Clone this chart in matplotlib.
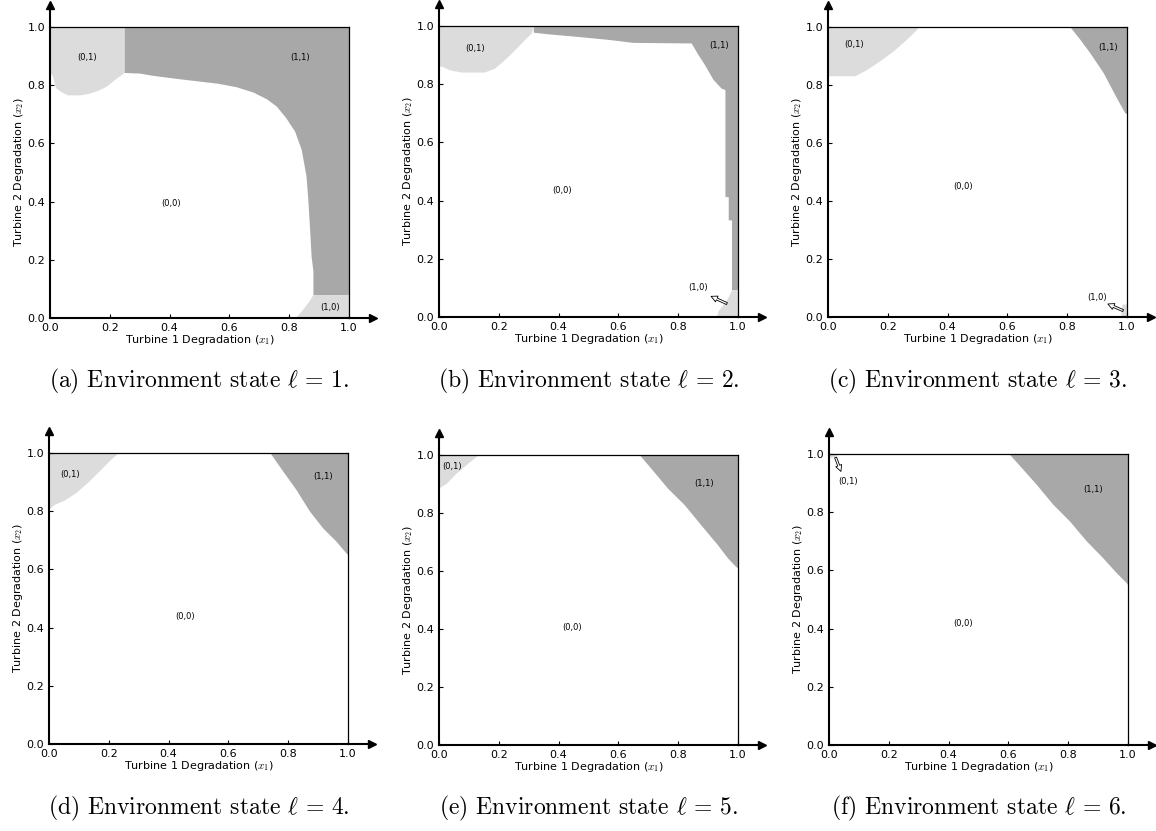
import matplotlib
matplotlib.use("Agg")
import matplotlib.pyplot as plt

plt.rcParams['mathtext.fontset'] = 'cm'

# colours of the policy regions
LIGHT = '#dcdcdc'
DARK = '#a8a8a8'

# ---- panel (a), l = 1 ----
a_01_x = [0.0, 0.01, 0.02, 0.04, 0.06, 0.10, 0.13, 0.16, 0.19, 0.22, 0.25]
a_01_y = [0.845, 0.83, 0.79, 0.775, 0.765, 0.765, 0.77, 0.78, 0.795, 0.82, 0.842]
a_11_x = [0.25, 0.30, 0.346, 0.43, 0.496, 0.563, 0.624, 0.68, 0.725, 0.758, 0.79,
          0.82, 0.842, 0.858, 0.864, 0.87, 0.875, 0.881, 0.881, 1.0]
a_11_y = [0.842, 0.84, 0.832, 0.821, 0.813, 0.805, 0.793, 0.775, 0.752, 0.727, 0.687,
          0.64, 0.577, 0.486, 0.405, 0.302, 0.21, 0.16, 0.078, 0.078]
a_10_y = [0.0, 0.02, 0.04, 0.06, 0.078]
a_10_x = [0.823, 0.84, 0.855, 0.87, 0.88]

# ---- panel (b), l = 2 ----
b_01_x = [0.0, 0.01, 0.036, 0.075, 0.153, 0.187, 0.22, 0.254, 0.287, 0.31, 0.317]
b_01_y = [0.86, 0.86, 0.848, 0.84, 0.84, 0.853, 0.882, 0.916, 0.951, 0.974, 1.0]
b_11_x = [0.317, 0.36, 0.47, 0.57, 0.65, 0.845, 0.865, 0.89, 0.918, 0.945, 0.958,
          0.958, 0.969, 0.969, 0.98, 0.98, 1.0]
b_11_y = [0.977, 0.972, 0.962, 0.952, 0.942, 0.94, 0.905, 0.865, 0.815, 0.785, 0.78,
          0.412, 0.412, 0.332, 0.332, 0.092, 0.092]
b_10_y = [0.0, 0.02, 0.04, 0.06, 0.08, 0.092]
b_10_x = [0.93, 0.935, 0.95, 0.965, 0.975, 0.98]

# ---- panel (c), l = 3 ----
c_01_x = [0.0, 0.091, 0.13, 0.175, 0.22, 0.264, 0.298, 0.303]
c_01_y = [0.83, 0.83, 0.851, 0.882, 0.916, 0.956, 0.99, 1.0]
c_11_x = [0.81, 0.844, 0.877, 0.922, 0.966, 0.994, 1.0]
c_11_y = [1.0, 0.956, 0.91, 0.841, 0.755, 0.703, 0.70]
c_10_y = [0.0, 0.043]
c_10_x = [0.98, 0.985]

# ---- panel (d), l = 4 ----
d_01_x = [0.0, 0.019, 0.052, 0.091, 0.13, 0.17, 0.208, 0.234]
d_01_y = [0.805, 0.822, 0.836, 0.862, 0.897, 0.937, 0.977, 1.0]
d_11_x = [0.74, 0.783, 0.827, 0.872, 0.916, 0.961, 0.994, 1.0]
d_11_y = [1.0, 0.937, 0.874, 0.80, 0.742, 0.696, 0.656, 0.65]

# ---- panel (e), l = 5 ----
e_01_x = [0.0, 0.026, 0.059, 0.098, 0.134]
e_01_y = [0.884, 0.901, 0.936, 0.97, 1.0]
e_11_x = [0.671, 0.71, 0.766, 0.822, 0.877, 0.933, 0.967, 0.994, 1.0]
e_11_y = [1.0, 0.953, 0.884, 0.827, 0.758, 0.689, 0.643, 0.614, 0.61]

# ---- panel (f), l = 6 ----
f_01_x = [0.0, 0.02, 0.037]
f_01_y = [0.985, 0.99, 1.0]
f_11_x = [0.603, 0.65, 0.695, 0.75, 0.806, 0.862, 0.917, 0.962, 0.996, 1.0]
f_11_y = [1.0, 0.946, 0.894, 0.826, 0.768, 0.70, 0.642, 0.591, 0.556, 0.55]

# label positions (x1, x2) for the action texts
lab_00 = [(0.405, 0.394), (0.413, 0.433), (0.452, 0.451), (0.454, 0.438), (0.445, 0.404), (0.449, 0.417)]
lab_01 = [(0.125, 0.896), (0.12, 0.924), (0.088, 0.939), (0.069, 0.925), (0.045, 0.962), (0.065, 0.906)]
lab_11 = [(0.836, 0.896), (0.935, 0.933), (0.935, 0.928), (0.916, 0.918), (0.886, 0.901), (0.884, 0.878)]
lab_10 = [(0.936, 0.036), (0.866, 0.10), (0.90, 0.068), None, None, None]

# small hollow arrows pointing from tiny regions to their labels: (head, tail)
arrows = [None,
          ((0.91, 0.071), (0.963, 0.046)),
          ((0.936, 0.045), (0.987, 0.022)),
          None, None,
          ((0.04, 0.94), (0.022, 0.988))]

regions_01 = [(a_01_x, a_01_y), (b_01_x, b_01_y), (c_01_x, c_01_y),
              (d_01_x, d_01_y), (e_01_x, e_01_y), (f_01_x, f_01_y)]
regions_11 = [(a_11_x, a_11_y), (b_11_x, b_11_y), (c_11_x, c_11_y),
              (d_11_x, d_11_y), (e_11_x, e_11_y), (f_11_x, f_11_y)]
regions_10 = [(a_10_y, a_10_x), (b_10_y, b_10_x), (c_10_y, c_10_x), None, None, None]

captions = ['(a)', '(b)', '(c)', '(d)', '(e)', '(f)']

# axes boxes in pixels: left, right, top, bottom
W, H = 1156, 831
boxes = [(50, 349, 27, 318), (439, 738, 26, 317), (828, 1127, 27, 317),
         (49, 348, 453, 744), (439, 738, 455, 745), (829, 1128, 454, 745)]
cap_y = [381, 381, 381, 808, 808, 808]


def fill_above(ax, x, y, color):
    # region between the boundary curve and the top edge x2 = 1
    ax.fill(list(x) + [x[-1], x[0]], list(y) + [1.0, 1.0], color=color, lw=0)


def fill_right(ax, y, x, color):
    # region between the boundary curve and the right edge x1 = 1
    ax.fill(list(x) + [1.0, 1.0], list(y) + [y[-1], y[0]], color=color, lw=0)


fig = plt.figure(figsize=(W / 100, H / 100), dpi=100)

for i in range(6):
    l, r, t, b = boxes[i]
    ax = fig.add_axes([l / W, 1 - b / H, (r - l) / W, (b - t) / H])

    x, y = regions_01[i]
    fill_above(ax, x, y, LIGHT)
    x, y = regions_11[i]
    fill_above(ax, x, y, DARK)
    if regions_10[i] is not None:
        y, x = regions_10[i]
        fill_right(ax, y, x, LIGHT)

    ax.set_xlim(0, 1)
    ax.set_ylim(0, 1)

    ax.text(*lab_00[i], '(0,0)', fontsize=6, ha='center', va='center')
    ax.text(*lab_01[i], '(0,1)', fontsize=6, ha='center', va='center')
    ax.text(*lab_11[i], '(1,1)', fontsize=6, ha='center', va='center')
    if lab_10[i] is not None:
        ax.text(*lab_10[i], '(1,0)', fontsize=6, ha='center', va='center')
    if arrows[i] is not None:
        head, tail = arrows[i]
        ax.annotate('', xy=head, xytext=tail,
                    arrowprops=dict(facecolor='white', edgecolor='black', lw=0.6,
                                    width=1.5, headwidth=4.5, headlength=4.5, shrink=0))

    for s in ['top', 'right']:
        ax.spines[s].set_linewidth(0.9)
    for s in ['left', 'bottom']:
        ax.spines[s].set_linewidth(1.5)

    # arrowheads on the x and y axes
    ax.plot([1.0, 1.075], [0, 0], color='k', lw=1.5, transform=ax.transAxes, clip_on=False)
    ax.plot([1.08], [0], marker='>', color='k', ms=6, transform=ax.transAxes, clip_on=False)
    ax.plot([0, 0], [1.0, 1.07], color='k', lw=1.5, transform=ax.transAxes, clip_on=False)
    ax.plot([0], [1.075], marker='^', color='k', ms=6, transform=ax.transAxes, clip_on=False)

    ax.set_xticks([0.0, 0.2, 0.4, 0.6, 0.8, 1.0])
    ax.set_yticks([0.0, 0.2, 0.4, 0.6, 0.8, 1.0])
    ax.tick_params(direction='in', length=3, labelsize=8, top=False, right=False, pad=3.5)
    ax.set_xlabel('Turbine 1 Degradation ($x_1$)', fontsize=8, labelpad=0)
    ax.set_ylabel('Turbine 2 Degradation ($x_2$)', fontsize=8, labelpad=1)

    fig.text((l + r) / 2 / W, 1 - cap_y[i] / H,
             captions[i] + r' Environment state $\ell\,=\,' + str(i + 1) + '$.',
             fontfamily='cmr10', fontsize=17, ha='center', va='center')

fig.savefig('out.png', dpi=100)
